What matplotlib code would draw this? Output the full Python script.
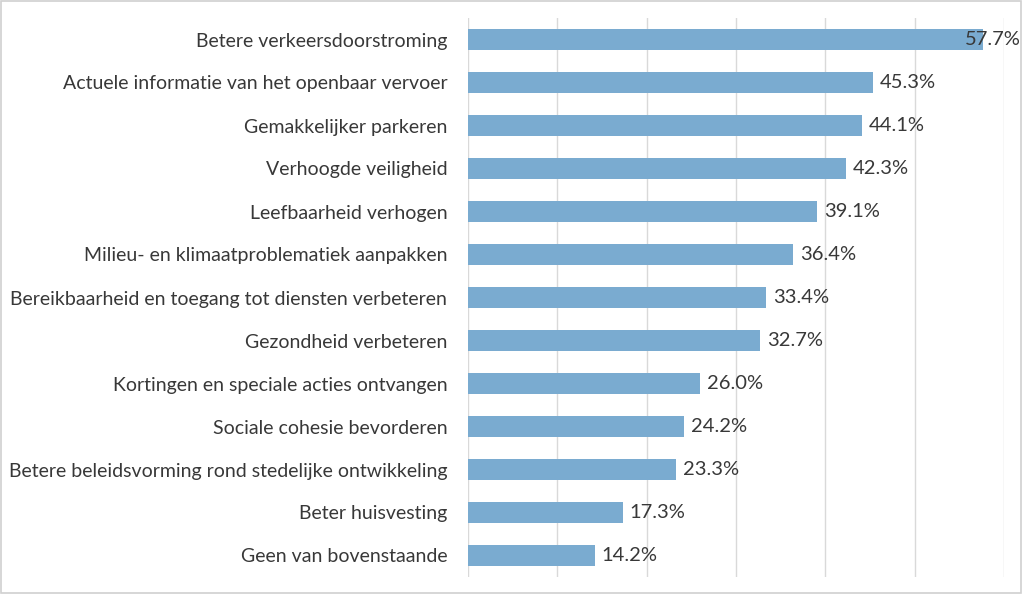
import matplotlib.pyplot as plt
from matplotlib.patches import Rectangle

labels = [
    "Betere verkeersdoorstroming",
    "Actuele informatie van het openbaar vervoer",
    "Gemakkelijker parkeren",
    "Verhoogde veiligheid",
    "Leefbaarheid verhogen",
    "Milieu- en klimaatproblematiek aanpakken",
    "Bereikbaarheid en toegang tot diensten verbeteren",
    "Gezondheid verbeteren",
    "Kortingen en speciale acties ontvangen",
    "Sociale cohesie bevorderen",
    "Betere beleidsvorming rond stedelijke ontwikkeling",
    "Beter huisvesting",
    "Geen van bovenstaande",
]
values = [57.7, 45.3, 44.1, 42.3, 39.1, 36.4, 33.4, 32.7, 26.0, 24.2, 23.3, 17.3, 14.2]

BAR = "#7aabd0"
TXT = "#383838"
GRID = "#d9d9d9"

plt.rcParams["font.family"] = ["Lato", "DejaVu Sans"]

fig = plt.figure(figsize=(10.24, 5.95), dpi=100)
ax = fig.add_axes([468 / 1024, 1 - 577 / 595, (1004 - 468) / 1024, (577 - 18) / 595])

ypos = list(range(len(values)))
ax.barh(ypos, values, height=0.5, color=BAR, zorder=2)
ax.set_ylim(len(values) - 0.5, -0.5)
ax.set_xlim(0, 60)
ax.set_xticks(range(0, 61, 10))
ax.set_xticklabels([])
ax.set_yticks(ypos)
ax.set_yticklabels(labels, fontsize=14, color=TXT)
ax.tick_params(length=0, pad=15)
ax.grid(axis="x", color=GRID, linewidth=1, zorder=0)
for s in ax.spines.values():
    s.set_visible(False)

for y, v in zip(ypos, values):
    off = -19 if v > 55 else 7
    ax.annotate(f"{v:.1f}%", (v, y), xytext=(off, 0), textcoords="offset pixels",
                ha="left", va="center", fontsize=14.5, color=TXT, zorder=3,
                annotation_clip=False)

fig.patches.append(Rectangle((0.001, 0.004), 0.996, 0.994, transform=fig.transFigure,
                             fill=False, edgecolor="#d0d0d0", linewidth=1.2))

fig.savefig("out.png", dpi=100)
